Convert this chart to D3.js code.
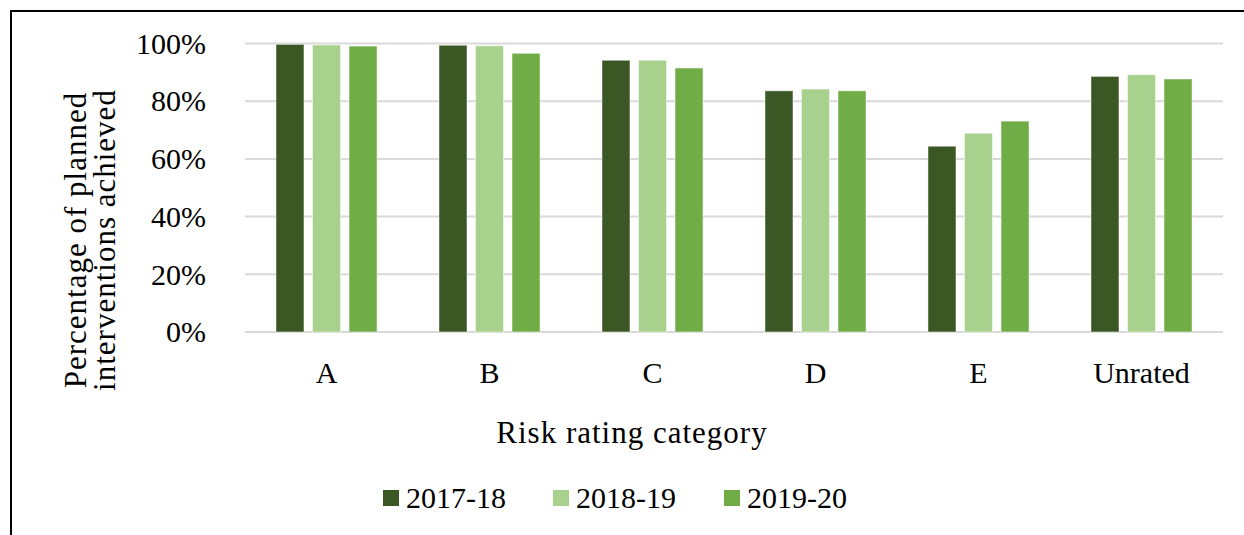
<!DOCTYPE html>
<html>
<head>
<meta charset="utf-8">
<script src="https://cdn.jsdelivr.net/npm/d3@7"></script>
<style>
  body { margin: 0; background: #fff; }
</style>
</head>
<body>
<svg id="chart" width="1244" height="535"></svg>
<script>
// data
const categories = ["A", "B", "C", "D", "E", "Unrated"];
const seriesNames = ["2017-18", "2018-19", "2019-20"];
const values2017 = [99.7, 99.4, 94.2, 83.6, 64.4, 88.6];
const values2018 = [99.5, 99.2, 94.2, 84.2, 68.9, 89.2];
const values2019 = [99.1, 96.6, 91.5, 83.6, 73.1, 87.7];
const yTicks = [0, 20, 40, 60, 80, 100];
const colours = ["#3b5724", "#a9d18e", "#70ad47"];

const seriesValues = [values2017, values2018, values2019];
const serif = "Liberation Serif";

const svg = d3.select("#chart");

// outer frame (chart area runs past the right and bottom edge)
svg.append("rect")
  .attr("x", 11).attr("y", 11)
  .attr("width", 1300).attr("height", 600)
  .attr("fill", "none")
  .attr("stroke", "#000")
  .attr("stroke-width", 2);

const plotLeft = 245, plotRight = 1223, plotTop = 43.5, plotBottom = 332;

const x = d3.scaleBand()
  .domain(categories)
  .range([plotLeft, plotRight])
  .paddingInner(0.38)
  .paddingOuter(0.19);

const xInner = d3.scaleBand()
  .domain(seriesNames)
  .range([0, x.bandwidth()])
  .paddingInner(0.233);

const y = d3.scaleLinear().domain([0, 100]).range([plotBottom, plotTop]);

const color = d3.scaleOrdinal().domain(seriesNames).range(colours);

// gridlines
svg.append("g")
  .selectAll("line")
  .data(yTicks)
  .enter().append("line")
  .attr("x1", plotLeft).attr("x2", plotRight)
  .attr("y1", d => y(d)).attr("y2", d => y(d))
  .attr("stroke", "#d9d9d9")
  .attr("stroke-width", 2);

// y tick labels
svg.append("g")
  .selectAll("text")
  .data(yTicks)
  .enter().append("text")
  .attr("x", 206)
  .attr("y", d => y(d))
  .attr("dy", "0.34em")
  .attr("text-anchor", "end")
  .style("font-family", serif)
  .style("font-size", "30px")
  .style("fill", "#000")
  .text(d => d + "%");

// bars
const rows = categories.map((c, i) => ({
  cat: c,
  vals: seriesNames.map((s, j) => ({ key: s, value: seriesValues[j][i] }))
}));

const groups = svg.append("g")
  .selectAll("g")
  .data(rows)
  .enter().append("g")
  .attr("transform", d => "translate(" + x(d.cat) + ",0)");

groups.selectAll("rect")
  .data(d => d.vals)
  .enter().append("rect")
  .attr("x", d => xInner(d.key))
  .attr("width", xInner.bandwidth())
  .attr("y", d => y(d.value))
  .attr("height", d => y(0) - y(d.value))
  .attr("fill", d => color(d.key))
  .attr("stroke", "#fff")
  .attr("stroke-opacity", 0.5)
  .attr("stroke-width", 1);

// category labels
svg.append("g")
  .selectAll("text")
  .data(categories)
  .enter().append("text")
  .attr("x", d => x(d) + x.bandwidth() / 2)
  .attr("y", 383)
  .attr("text-anchor", "middle")
  .style("font-family", serif)
  .style("font-size", "30px")
  .style("fill", "#000")
  .text(d => d);

// axis titles
svg.append("text")
  .attr("x", 632)
  .attr("y", 443)
  .attr("text-anchor", "middle")
  .style("font-family", serif)
  .style("font-size", "31px")
  .style("letter-spacing", "1px")
  .style("fill", "#000")
  .text("Risk rating category");

const yTitle = svg.append("text")
  .attr("transform", "translate(86,240) rotate(-90)")
  .attr("text-anchor", "middle")
  .style("font-family", serif)
  .style("font-size", "31px")
  .style("letter-spacing", "1px")
  .style("fill", "#000");
yTitle.append("tspan").attr("x", 0).attr("y", 0)
  .style("font-family", serif).text("Percentage of planned");
yTitle.append("tspan").attr("x", 0).attr("y", 29)
  .style("font-family", serif).text("interventions achieved");

// legend
const legendX = [383, 553, 724];
const legend = svg.append("g")
  .selectAll("g")
  .data(seriesNames)
  .enter().append("g")
  .attr("transform", (d, i) => "translate(" + legendX[i] + ",490)");

legend.append("rect")
  .attr("width", 16).attr("height", 16)
  .attr("fill", d => color(d));

legend.append("text")
  .attr("x", 23)
  .attr("y", 18)
  .style("font-family", serif)
  .style("font-size", "30px")
  .style("fill", "#000")
  .text(d => d);
</script>
</body>
</html>
